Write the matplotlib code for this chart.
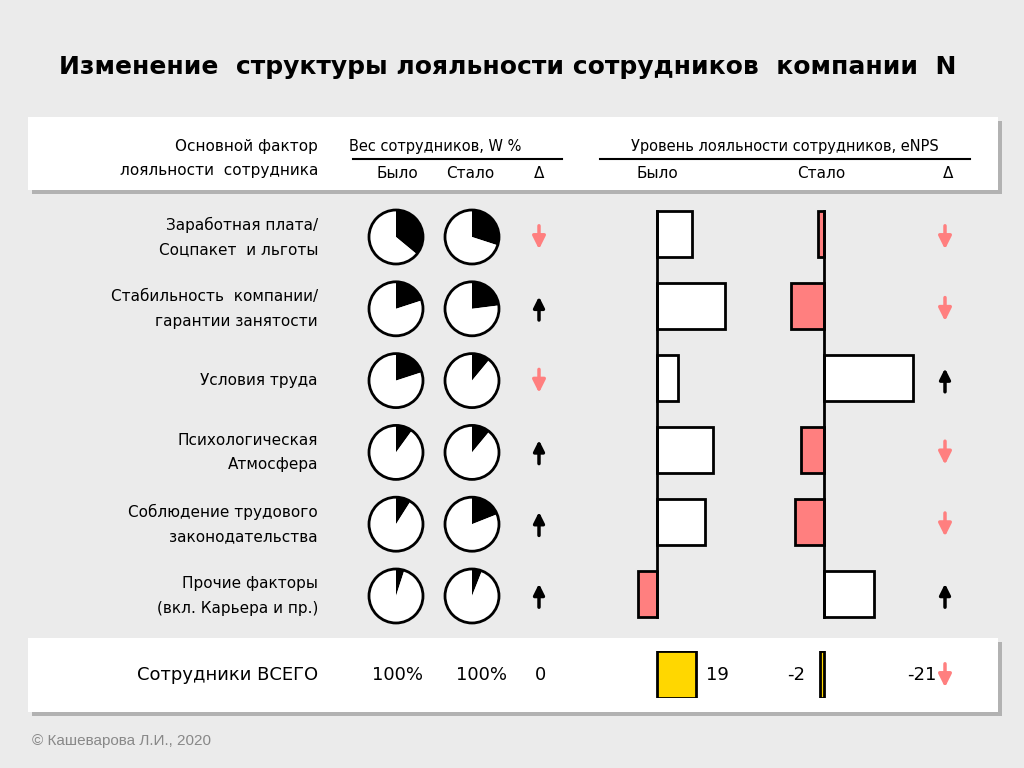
import numpy as np
import matplotlib
matplotlib.use('Agg')
import matplotlib.pyplot as plt
from matplotlib.patches import Rectangle

plt.rcParams['font.family'] = ['DejaVu Sans']

# data
factors = ['Заработная плата/\nСоцпакет  и льготы',
           'Стабильность  компании/\nгарантии занятости',
           'Условия труда',
           'Психологическая\nАтмосфера',
           'Соблюдение трудового\nзаконодательства',
           'Прочие факторы\n(вкл. Карьера и пр.)']
w_before = [36, 20, 20, 10, 9, 5]
w_after = [30, 23, 11, 11, 19, 6]
enps_before = [17, 33, 10, 27, 23, -9]
enps_after = [-3, -16, 43, -11, -14, 24]
total_before = 19
total_after = -2
total_label = 'Сотрудники ВСЕГО'

W, H = 1024, 768
BG = '#EBEBEB'
RED = '#FF7F7F'
YEL = '#FFD700'

fig = plt.figure(figsize=(W / 100, H / 100), dpi=100, facecolor=BG)
bg = fig.add_axes([0, 0, 1, 1])
bg.set_xlim(0, W)
bg.set_ylim(H, 0)
bg.axis('off')
bg.set_zorder(0)


def px_axes(x0, y0, x1, y1):
    # axes placed by pixel box (y from top)
    return fig.add_axes([x0 / W, 1 - y1 / H, (x1 - x0) / W, (y1 - y0) / H])


# white panels with shadow
for (x0, y0, x1, y1) in [(28, 117, 998, 190), (28, 638, 998, 712)]:
    bg.add_patch(Rectangle((x0 + 4, y0 + 4), x1 - x0, y1 - y0, fc='#9A9A9A', ec='none', alpha=0.7))
    bg.add_patch(Rectangle((x0, y0), x1 - x0, y1 - y0, fc='white', ec='none'))

bg.text(508, 67, 'Изменение  структуры лояльности сотрудников  компании  N',
        ha='center', va='center', fontsize=18, fontweight='bold')

# header
hfs = 11
bg.text(318, 146, 'Основной фактор', ha='right', va='center', fontsize=hfs)
bg.text(318, 170, 'лояльности  сотрудника', ha='right', va='center', fontsize=hfs)
bg.text(435, 146, 'Вес сотрудников, W %', ha='center', va='center', fontsize=10.5)
bg.plot([353, 562], [159, 159], color='black', lw=1.5)
bg.text(785, 146, 'Уровень лояльности сотрудников, eNPS', ha='center', va='center', fontsize=10.5)
bg.plot([600, 970], [159, 159], color='black', lw=1.5)
for x, s in [(397, 'Было'), (470, 'Стало'), (539, 'Δ'), (657, 'Было'), (821, 'Стало'), (948, 'Δ')]:
    bg.text(x, 173, s, ha='center', va='center', fontsize=hfs)

row_y = 237 + 71.8 * np.arange(len(factors))
pie_r = 27


def arrow(x, y, up):
    if up:
        bg.annotate('', xy=(x, y - 15), xytext=(x, y + 14),
                    arrowprops=dict(arrowstyle='-|>', color='black', lw=2.5, mutation_scale=16))
    else:
        bg.annotate('', xy=(x, y + 15), xytext=(x, y - 14),
                    arrowprops=dict(arrowstyle='-|>', color=RED, lw=2.5, mutation_scale=19))


for i, name in enumerate(factors):
    y = row_y[i]
    bg.text(318, y, name, ha='right', va='center', fontsize=hfs, linespacing=1.8)
    for cx, val in [(396, w_before[i]), (472, w_after[i])]:
        pa = px_axes(cx - pie_r - 2, y - pie_r - 2, cx + pie_r + 2, y + pie_r + 2)
        pa.pie([val, 100 - val], colors=['black', 'white'], startangle=90, counterclock=False,
               radius=pie_r / (pie_r + 2), wedgeprops=dict(linewidth=0))
        pa.add_patch(plt.Circle((0, 0), pie_r / (pie_r + 2), fill=False, ec='black', lw=2))
        pa.set_xlim(-1, 1)
        pa.set_ylim(-1, 1)
        pa.set_aspect('equal')
    d = w_after[i] - w_before[i]
    if d == 0:
        bg.text(541, y, '0', ha='center', va='center', fontsize=12)
    else:
        arrow(539, y, d > 0)
    arrow(945, y, enps_after[i] > enps_before[i])

# eNPS bars
scale = 2.07  # px per eNPS point
for zero_px, vals in [(657, enps_before), (824, enps_after)]:
    ax = px_axes(zero_px - 60, 198, zero_px + 150, 629.5)
    ax.set_xlim(-60 / scale, 150 / scale)
    ax.set_ylim(len(vals) - 0.5, -0.5)
    ax.axis('off')
    ax.patch.set_alpha(0)
    colors = ['white' if v >= 0 else RED for v in vals]
    ax.barh(np.arange(len(vals)), vals, height=0.64, color=colors, edgecolor='black', linewidth=2)
    ax.plot([0, 0], [-0.32, len(vals) - 1 + 0.32], color='black', lw=2)

# totals row
ty = 675
bg.text(318, ty, total_label, ha='right', va='center', fontsize=13)
bg.text(397, ty, '%d%%' % sum(w_before), ha='center', va='center', fontsize=13)
bg.text(481, ty, '%d%%' % sum(w_after), ha='center', va='center', fontsize=13)
bg.text(541, ty, '0', ha='center', va='center', fontsize=13)
for zero_px, val in [(657, total_before), (824, total_after)]:
    ax = px_axes(zero_px - 60, 651, zero_px + 150, 698)
    ax.set_xlim(-60 / scale, 150 / scale)
    ax.set_ylim(0, 1)
    ax.axis('off')
    ax.patch.set_alpha(0)
    ax.barh([0.5], [val], height=1, color=YEL, edgecolor='black', linewidth=2)
bg.text(706, ty, str(total_before), ha='left', va='center', fontsize=13)
bg.text(805, ty, str(total_after), ha='right', va='center', fontsize=13)
bg.text(936, ty, str(total_after - total_before), ha='right', va='center', fontsize=13)
arrow(945, ty, total_after > total_before)

bg.text(32, 741, '© Кашеварова Л.И., 2020', ha='left', va='center', fontsize=11,
        color='#888888', family=['Liberation Sans', 'DejaVu Sans'])

fig.savefig('out.png', dpi=100, facecolor=BG)
